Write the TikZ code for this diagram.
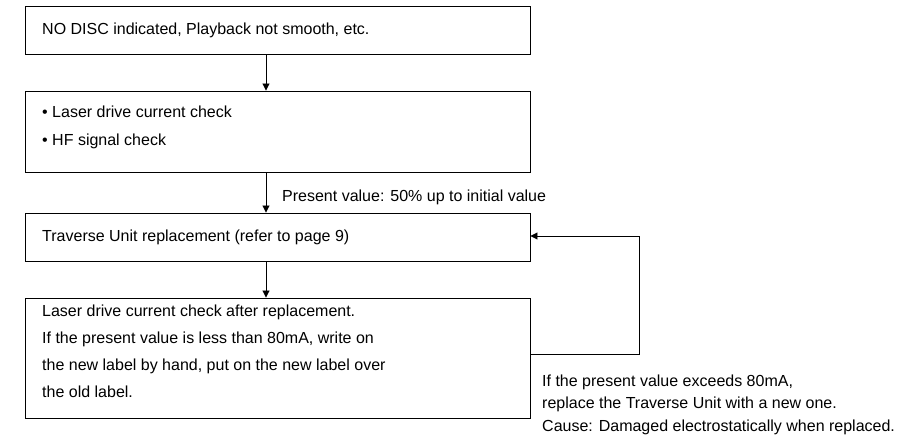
\documentclass[tikz,border=0pt]{standalone}
\usepackage{fontspec}
\setmainfont{Liberation Sans}
\usetikzlibrary{arrows.meta}
\begin{document}
\begin{tikzpicture}[x=1pt,y=-1pt,
  box/.style={draw,line width=0.9pt,minimum width=505pt,inner sep=0pt},
  txt/.style={anchor=base west,inner sep=0pt,font=\fontsize{16}{18}\selectfont},
  conn/.style={line width=0.9pt,-{Triangle[length=7pt,width=7pt]}}]
\useasboundingbox (0,0) rectangle (908,438);
\node (b1) [box,minimum height=48pt] at (277.5,30) {};
\node (b2) [box,minimum height=81pt] at (277.5,131.5) {};
\node (b3) [box,minimum height=48pt] at (277.5,237) {};
\node (b4) [box,minimum height=120pt] at (277.5,358) {};
\node[txt] (t1) at (42,35) {NO DISC indicated, Playback not smooth, etc.};
\node[txt] (t2a) at (42,118) {• Laser drive current check};
\node[txt] (t2b) at (42,146) {• HF signal check};
\node[txt] (t3) at (42,242) {Traverse Unit replacement (refer to page 9)};
\node[txt] (t4a) at (42,317) {Laser drive current check after replacement.};
\node[txt] (t4b) at (42,344) {If the present value is less than 80mA, write on};
\node[txt] (t4c) at (42,370.5) {the new label by hand, put on the new label over};
\node[txt] (t4d) at (42,397) {the old label.};
\node[txt] (lp) at (282,202) {Present value: 50\% up to initial value};
\node[txt] (r1) at (542,387) {If the present value exceeds 80mA,};
\node[txt] (r2) at (542,409) {replace the Traverse Unit with a new one.};
\node[txt] (r3) at (542,431) {Cause: Damaged electrostatically when replaced.};
\coordinate (c1) at (639,354);
\coordinate (c2) at (639,236);
\draw[conn] (b1.south -| 266,0) -- (b2.north -| 266,0);
\draw[conn] (b2.south -| 266,0) -- (b3.north -| 266,0);
\draw[conn] (b3.south -| 266,0) -- (b4.north -| 266,0);
\draw[conn] (b4.east |- c1) -- (c1) -- (c2) -- (b3.east |- c2);
\end{tikzpicture}
\end{document}
